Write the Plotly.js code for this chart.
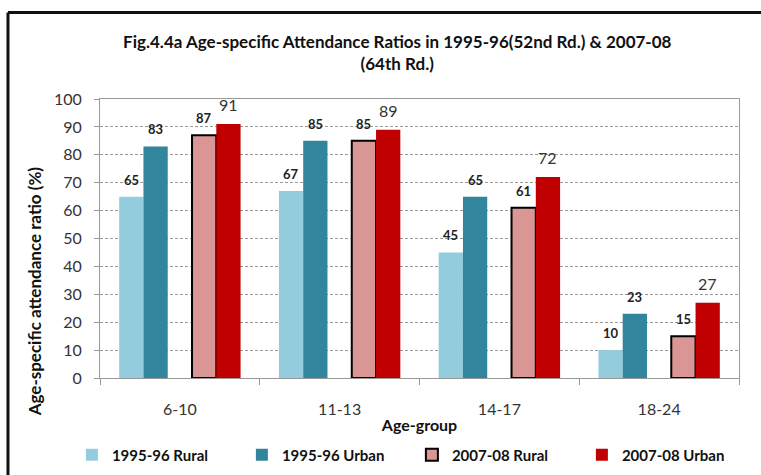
<!DOCTYPE html>
<html><head><meta charset="utf-8">
<script src="https://cdn.plot.ly/plotly-3.0.1.min.js"></script>
<style>html,body{margin:0;padding:0;background:#fff;}#chart{width:761px;height:475px;}</style>
</head><body><div id="chart"></div>
<script>
var categories = ['6-10', '11-13', '14-17', '18-24'];
var rural9596 = [65, 67, 45, 10];
var urban9596 = [83, 85, 65, 23];
var rural0708 = [87, 85, 61, 15];
var urban0708 = [91, 89, 72, 27];
var seriesNames = ['1995-96 Rural', '1995-96 Urban', '2007-08 Rural', '2007-08 Urban'];

var F = 'Lato, "Open Sans", sans-serif';
var smallLbl = {family: F, size: 13, color: '#222', weight: 'bold'};
var bigLbl = {family: F, size: 16, color: '#333'};

var W = 761, ML = 100, MR = 22, BARGAP = 0.24, NSLOT = 5;
var slotPx = (W - ML - MR) / categories.length * (1 - BARGAP) / NSLOT;

function bar(name, y, color, lineColor, lineW) {
  return {type: 'bar', name: name, x: categories, y: y,
    marker: {color: color, line: {color: lineColor, width: lineW}}, hoverinfo: 'x+y'};
}
var traces = [
  bar(seriesNames[0], rural9596, '#93CDDD', '#93CDDD', 0),
  bar(seriesNames[1], urban9596, '#31859C', '#31859C', 0),
  {type: 'bar', name: '', x: categories, y: categories.map(function(){return null;}), showlegend: false, hoverinfo: 'skip'},
  bar(seriesNames[2], rural0708, '#D99694', '#000000', 2),
  bar(seriesNames[3], urban0708, '#C00000', '#C00000', 0)
];

// value labels placed over each bar slot
var labelSets = [
  {vals: rural9596, slot: -2, font: smallLbl, shift: 7},
  {vals: urban9596, slot: -1, font: smallLbl, shift: 7},
  {vals: rural0708, slot: 1, font: smallLbl, shift: 7},
  {vals: urban0708, slot: 2, font: bigLbl, shift: 8}
];
var annotations = [];
labelSets.forEach(function(s) {
  s.vals.forEach(function(v, j) {
    annotations.push({text: String(v), x: categories[j], y: v, xref: 'x', yref: 'y',
      xanchor: 'center', yanchor: 'bottom', xshift: s.slot * slotPx, yshift: s.shift,
      showarrow: false, font: s.font});
  });
});
annotations.push({text: '<b>Age-specific attendance ratio (%)</b>', xref: 'paper', yref: 'paper', x: -0.102, y: 0.31,
  xanchor: 'center', yanchor: 'middle', textangle: -90, showarrow: false,
  font: {family: F, size: 17, color: '#111'}});

var layout = {
  width: W, height: 475,
  margin: {l: ML, r: MR, t: 99, b: 97, autoexpand: false},
  paper_bgcolor: '#fff', plot_bgcolor: '#fff',
  barmode: 'group', bargap: BARGAP, bargroupgap: 0,
  title: {text: '<b>Fig.4.4a Age-specific Attendance Ratios in 1995-96(52nd Rd.) &amp; 2007-08<br>(64th Rd.)</b>',
    font: {family: F, size: 17, color: '#111'}, x: 0.522, xanchor: 'center', y: 0.9, yanchor: 'top'},
  xaxis: {type: 'category', tickson: 'boundaries', ticks: 'outside', ticklen: 6, tickcolor: '#999',
    showline: true, linecolor: '#999', mirror: true, showgrid: false, ticklabelstandoff: 17,
    automargin: false,
    tickfont: {family: F, size: 16, color: '#333'},
    title: {text: '<b>Age-group</b>', font: {family: F, size: 16, color: '#111'}, standoff: 2}},
  yaxis: {range: [0, 100], dtick: 10, ticks: 'outside', ticklen: 5, tickcolor: '#999',
    showline: true, linecolor: '#999', mirror: true, ticklabelstandoff: 9, automargin: false,
    showgrid: true, gridcolor: '#9a9a9a', griddash: '3px,2px', gridwidth: 1,
    zeroline: false,
    tickfont: {family: F, size: 16, color: '#333'}},
  annotations: annotations,
  legend: {orientation: 'h', x: -0.044, xanchor: 'left', y: -0.335, yanchor: 'bottom',
    font: {family: F, size: 15, color: '#111', weight: 'bold'},
    itemwidth: 30, entrywidth: 125, entrywidthmode: 'pixels', traceorder: 'normal'},
  shapes: [
    {type: 'line', xref: 'paper', yref: 'paper', x0: -0.144, x1: -0.144, y0: -0.5, y1: 1.31, line: {color: '#111', width: 3}},
    {type: 'line', xref: 'paper', yref: 'paper', x0: -0.144, x1: 1.2, y0: 1.31, y1: 1.31, line: {color: '#111', width: 3}}
  ],
  showlegend: true
};
Plotly.newPlot('chart', traces, layout, {displayModeBar: false, staticPlot: true});
</script></body></html>
